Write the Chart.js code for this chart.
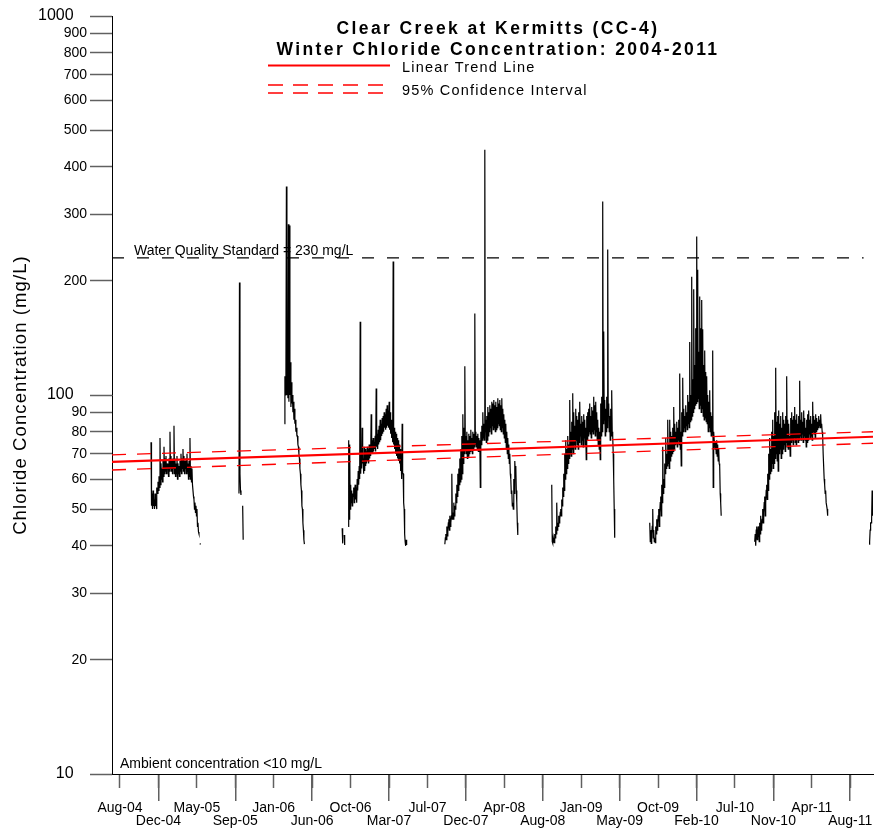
<!DOCTYPE html>
<html>
<head>
<meta charset="utf-8">
<script src="https://cdn.jsdelivr.net/npm/chart.js@4.4.1/dist/chart.umd.min.js"></script>
<style>
html,body{margin:0;padding:0;background:#fff;}
#wrap{width:876px;height:831px;}
</style>
</head>
<body>
<div id="wrap"><canvas id="c" width="876" height="831"></canvas></div>
<script>
// ---- x axis: days counted from 6 Aug 2004 ----
const X_MIN = -28, X_MAX = 2645;
const tickDays = [0,135,270,405,540,675,810,945,1080,1215,1350,1485,1620,1755,1890,2025,2160,2295,2430,2565];
const tickLabels = ['Aug-04','Dec-04','May-05','Sep-05','Jan-06','Jun-06','Oct-06','Mar-07','Jul-07','Dec-07',
                    'Apr-08','Aug-08','Jan-09','May-09','Oct-09','Feb-10','Jul-10','Nov-10','Apr-11','Aug-11'];
// ---- y axis (log) ----
const yTicks = [10,20,30,40,50,60,70,80,90,100,200,300,400,500,600,700,800,900,1000];
const yMajor = [10,100,1000];

// ---- chloride series: each season = start day + samples every STEP days (mg/L) ----
const STEP = 1.755;
const season1Start = 109;
const season1 = [75,51,55,50,56,51,53,50,55,51,52,50,57,55,59,56,61,57,77,58,66,60,64,59,67,61,73,62,68,63,69,62,66,64,66,61,68,63,80,64,69,63,67,62,68,64,83,62,68,61,66,62,69,60,66,62,65,61,67,63,70,62,68,64,72,63,69,62,67,64,68,62,70,63,66,60,67,61,77,60,65,59,64,58,58,54,53,50,52,49,51,48,50,45,46,43.5,43,null,40.3,40.6];
const season2aStart = 418;
const season2a = [55,198,62,56,54.5];
const season2bStart = 431;
const season2b = [51,41.5];
const season2cStart = 577.6;
const season2c = [84,112,100,110,355,100,110,98,282,96,280,100,122,93,108,95,100,90,96,86,92,84,86,80,82,78,78,74,73,70,68,64,62,58,56,51,50,46,44,41.5,40.4];
const season3aStart = 780.5;
const season3a = [44.5,40.6,null,null,42.7,40.2];
const season3bStart = 801.6;
const season3b = [45,76,47,74,50,58,52,56,51,55,54,57,52,56,58,53,57,52,60,56,63,58,65,60,156,62,70,64,82,66,68,62,73,63,72,65,71,66,73,67,72,66,74,68,73,69,89,70,76,70,77,71,75,72,78,71,104,73,79,72,81,74,83,75,86,76,84,78,87,79,88,80,90,82,89,81,92,82,94,83,91,82,96,81,90,79,86,77,84,75,225,74,82,72,80,70,79,69,77,68,76,67,74,66,72,63,68,60,84,62,62,52,50,43,41,40,41.5,40.2];
const season4Start = 1141.1;
const season4 = [40.4,42,43,41.5,45,42.5,44,46,47,44,48,45,46,48,62,47,49,47,52,48,51,50,55,52,58,54,62,56,64,58,68,59,72,60,78,62,89,66,82,70,119,72,78,70,80,68,76,69,79,70,78,71,81,72,77,70,80,72,79,73,164,74,80,73,78,72,79,71,77,72,76,57,80,74,83,76,90,77,84,76,444,80,86,75,88,76,93,78,90,80,94,82,92,79,96,83,95,81,97,82,94,80,96,81,93,82,98,84,95,83,97,81,94,80,98,82,92,79,89,77,86,75,84,72,80,70,77,68,74,66,70,62,60,55,56,51,52,50,60,55,67,62,65,56,52,46,42.7];
const season5Start = 1516.6;
const season5 = [58,41,40.6,42,41,40.8,43,42,45,43,52,44,46,45,48,46,47,49,50,48,53,51,57,54,62,56,70,60,76,62,72,64,78,66,74,68,97,70,80,69,85,72,101,70,90,74,83,72,92,76,88,74,86,72,90,75,96,78,84,74,88,76,85,73,89,77,86,74,82,67.5,88,76,90,78,92,80,95,79,88,77,93,80,91,79,99,81,94,78,96,80,90,76,86,74,82,72,80,67.5,95,78,99,80,324,84,147,86,97,78,92,80,99,82,242,88,95,80,88,76,92,78,103,80,78,70,60,50,42];
const season6Start = 1860.8;
const season6 = [46,41,44,40.6,43,45,50,42,44,41,42,40.8,45,43,47,44,46,48,50,45,49,52,54,48,58,52,73,55,60,57,66,62,77,64,70,65,86,66,74,64,86,67,80,69,78,70,82,71,93,72,84,74,80,75,85,73,82,76,86,74,114,72,80,65,90,78,111,80,92,82,88,80,94,83,90,81,100,84,96,82,138,85,100,86,205,88,110,90,190,92,120,94,150,95,262,96,214,98,130,92,182,94,150,90,178,92,149,88,120,86,131,87,115,85,112,84,100,80,96,82,103,80,90,78,88,79,131,57,80,76,76,72,75,70,76,69,74,67,72,66,65,55,52,48,48];
const season7Start = 2229.5;
const season7 = [41,43,40,44,45,41.5,42,45,44,41,46,43,48,44,45,47,50,46,49,52,54,48,52,56,58,53,62,56,70,60,77,62,72,63,80,66,86,64,78,66,90,68,118,70,85,67,88,63,91,70,84,72,88,68,82,70,90,72,86,74,84,71,88,75,112,73,86,72,84,74,78,69,87,75,90,76,86,74,88,77,93,75,86,74,89,77,84,75,88,76,109,78,86,76,90,79,85,75,91,78,87,76,82,73,86,75,89,76,91,79,86,77,88,78,84,76,96,80,88,79,86,77,89,80,87,81,85,82,88,83,86,82,89,83,84,80,78,70,70,60,58,55,56,52,52,50,48];
const season8Start = 2631.4;
const season8 = [40.4,41,44,46,46,47,56,48];

// ---- trend line and 95% confidence interval (mg/L at the axis ends) ----
const trendDays = [X_MIN, X_MAX];
const trendValues = [66.6, 77.6];
const ciUpper = [69.5, 80.0];
const ciLower = [63.4, 74.6];
// ---- water quality standard ----
const standardValue = 230;
const standardDays = [X_MIN, 2612];

const FONT = '"Liberation Sans", Arial, Helvetica, sans-serif';

const seasons = [
  [season1Start, season1],[season2aStart, season2a],[season2bStart, season2b],[season2cStart, season2c],
  [season3aStart, season3a],[season3bStart, season3b],[season4Start, season4],[season5Start, season5],
  [season6Start, season6],[season7Start, season7],[season8Start, season8]
];
const seriesPts = [];
seasons.forEach(([start, vals]) => {
  vals.forEach((v, i) => seriesPts.push({x: start + i * STEP, y: v}));
  seriesPts.push({x: start + vals.length * STEP, y: null});
});
const pair = (days, vals) => days.map((d, i) => ({x: d, y: vals[i]}));

const textPlugin = {
  id: 'texts',
  afterDraw(chart) {
    const ctx = chart.ctx, xs = chart.scales.x, ca = chart.chartArea;
    ctx.save();
    // long alternate x tick marks (aligned the same way Chart.js aligns its own ticks)
    ctx.strokeStyle = '#606060'; ctx.lineWidth = 1.5;
    tickDays.forEach((d, i) => {
      if (i % 2) {
        const px = Math.round(xs.getPixelForValue(d) - 0.75) + 0.75;
        ctx.beginPath(); ctx.moveTo(px, ca.bottom + 1); ctx.lineTo(px, ca.bottom + 27); ctx.stroke();
      }
    });
    ctx.fillStyle = '#000';
    // title
    ctx.font = 'bold 17.5px ' + FONT;
    ctx.textAlign = 'center'; ctx.textBaseline = 'alphabetic';
    ctx.letterSpacing = '2.4px';
    ctx.fillText('Clear Creek at Kermitts (CC-4)', 498, 33.5);
    ctx.fillText('Winter Chloride Concentration: 2004-2011', 498, 54.5);
    // legend
    ctx.letterSpacing = '1.2px';
    ctx.font = '14.5px ' + FONT; ctx.textAlign = 'left';
    ctx.fillText('Linear Trend Line', 402, 71.5);
    ctx.fillText('95% Confidence Interval', 402, 95);
    ctx.strokeStyle = '#ff0000';
    ctx.lineWidth = 2.2; ctx.setLineDash([]);
    ctx.beginPath(); ctx.moveTo(268, 65.5); ctx.lineTo(390, 65.5); ctx.stroke();
    ctx.lineWidth = 1.3; ctx.setLineDash([15, 10]);
    ctx.beginPath(); ctx.moveTo(268, 85); ctx.lineTo(385, 85); ctx.stroke();
    ctx.beginPath(); ctx.moveTo(268, 93); ctx.lineTo(385, 93); ctx.stroke();
    ctx.setLineDash([]);
    // annotations
    ctx.letterSpacing = '0px';
    ctx.font = '14px ' + FONT;
    ctx.fillText('Water Quality Standard = 230 mg/L', 134, 255);
    ctx.fillText('Ambient concentration <10 mg/L', 120, 768);
    // y axis title
    ctx.translate(26, 395); ctx.rotate(-Math.PI / 2);
    ctx.textAlign = 'center';
    ctx.font = '18.5px ' + FONT; ctx.letterSpacing = '1.1px';
    ctx.fillText('Chloride Concentration (mg/L)', 0, 0);
    ctx.restore();
  }
};

new Chart(document.getElementById('c'), {
  type: 'line',
  data: {
    datasets: [
      {label: 'Chloride', data: seriesPts, borderColor: '#000', borderWidth: 1.2, pointRadius: 0, spanGaps: false, tension: 0, order: 3},
      {label: 'Linear Trend Line', data: pair(trendDays, trendValues), borderColor: '#ff0000', borderWidth: 2.2, pointRadius: 0, order: 1},
      {label: 'Upper 95%', data: pair(trendDays, ciUpper), borderColor: '#ff0000', borderWidth: 1.3, borderDash: [14, 11], pointRadius: 0, order: 2},
      {label: 'Lower 95%', data: pair(trendDays, ciLower), borderColor: '#ff0000', borderWidth: 1.3, borderDash: [14, 11], pointRadius: 0, order: 2},
      {label: 'Standard', data: pair(standardDays, [standardValue, standardValue]), borderColor: '#000', borderWidth: 1.3, borderDash: [12, 13], pointRadius: 0, order: 4}
    ]
  },
  options: {
    responsive: false,
    animation: false,
    events: [],
    layout: {padding: {top: 16, right: 3, left: 0, bottom: 0}},
    plugins: {legend: {display: false}, tooltip: {enabled: false}, title: {display: false}},
    scales: {
      x: {
        type: 'linear', min: X_MIN, max: X_MAX,
        afterBuildTicks: s => { s.ticks = tickDays.map(v => ({value: v})); },
        afterFit: s => { s.height = 57; s.paddingLeft = 0; s.paddingRight = 0; },
        grid: {drawOnChartArea: false, drawTicks: true, tickLength: 14, tickColor: '#606060', tickWidth: 1.5},
        border: {display: true, color: '#000', width: 1},
        ticks: {
          autoSkip: false, maxRotation: 0, minRotation: 0, padding: 14,
          color: '#000', font: {family: FONT, size: 14, lineHeight: 0.93},
          callback: (v, i) => (i % 2 ? ['', tickLabels[i]] : tickLabels[i])
        }
      },
      y: {
        type: 'logarithmic', min: 10, max: 1000,
        afterBuildTicks: s => { s.ticks = yTicks.map(v => ({value: v})); },
        afterFit: s => { s.width = 112; s.paddingTop = 0; s.paddingBottom = 0; },
        grid: {drawOnChartArea: false, drawTicks: true, tickLength: 22, tickColor: '#606060', tickWidth: 1.5},
        border: {display: true, color: '#000', width: 1},
        ticks: {
          autoSkip: false, padding: 3, color: '#000',
          font: c => ({family: FONT, size: yMajor.includes(c.tick && c.tick.value) ? 16 : 14}),
          callback: v => (yMajor.includes(v) ? v + '   ' : String(v))
        }
      }
    }
  },
  plugins: [textPlugin]
});
</script>
</body>
</html>
